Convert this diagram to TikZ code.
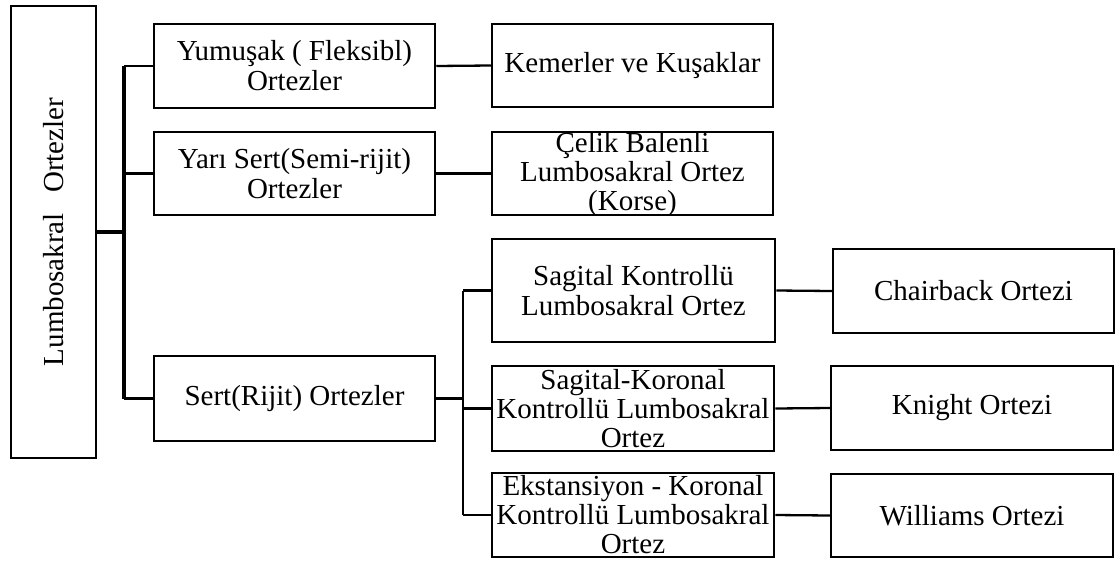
\documentclass[tikz,border=0pt]{standalone}
\usepackage{fontspec}
\setmainfont{Liberation Serif}
\begin{document}
\begin{tikzpicture}[x=1pt,y=-1pt,
  box/.style={draw=black, line width=2.5pt, fill=white, inner sep=0pt, minimum width=281pt, minimum height=84pt},
  txt/.style={inner sep=0pt, align=center, font=\fontsize{29}{30}\selectfont},
  txt3/.style={txt, font=\fontsize{29}{29}\selectfont},
  lnk/.style={draw=black, line width=2.3pt},
  lnkb/.style={draw=black, line width=3.2pt}]
\useasboundingbox (0,0) rectangle (1118,560);
% boxes
\node[box, minimum width=85pt, minimum height=452pt] (root) at (53.5,232) {};
\node[box, minimum height=84pt] (yum) at (294.5,66) {};
\node[box, minimum height=83pt] (yari) at (294.5,173.5) {};
\node[box, minimum height=85pt] (sert) at (294.5,398.5) {};
\node[box, minimum height=83pt] (kem) at (632.5,65.5) {};
\node[box, minimum height=83pt] (cel) at (632.5,173.5) {};
\node[box, minimum width=283pt, minimum height=103pt] (sk) at (633.5,290.5) {};
\node[box, minimum width=282pt, minimum height=85pt] (sko) at (633,408.5) {};
\node[box, minimum width=282pt, minimum height=84pt] (ek) at (633,515) {};
\node[box, minimum height=84pt] (chb) at (973.5,291) {};
\node[box, minimum width=282pt, minimum height=84pt] (kn) at (972,408) {};
\node[box, minimum width=282pt, minimum height=83pt] (wi) at (972,515.5) {};
% texts
\node[txt, rotate=90] (root-t) at (root) {Lumbosakral\hspace{0.7em}Ortezler};
\node[txt] (yum-t) at (yum) {Yumuşak ( Fleksibl)\\Ortezler};
\node[txt] (yari-t) at (yari) {Yarı Sert(Semi-rijit)\\Ortezler};
\node[txt] (sert-t) at (sert) {Sert(Rijit) Ortezler};
\node[txt] (kem-t) at (kem) {Kemerler ve Kuşaklar};
\node[txt3] (cel-t) at ([yshift=-1.5pt]cel.center) {Çelik Balenli\\Lumbosakral Ortez\\(Korse)};
\node[txt] (sk-t) at (sk) {Sagital Kontrollü\\Lumbosakral Ortez};
\node[txt3] (sko-t) at (sko) {Sagital-Koronal\\Kontrollü Lumbosakral\\Ortez};
\node[txt3] (ek-t) at (ek) {Ekstansiyon - Koronal\\Kontrollü Lumbosakral\\Ortez};
\node[txt] (chb-t) at (chb) {Chairback Ortezi};
\node[txt] (kn-t) at (kn) {Knight Ortezi};
\node[txt] (wi-t) at (wi) {Williams Ortezi};
% junctions
\coordinate (j1) at (124,232);
\coordinate (j2) at (463,398.5);
% connectors
\draw[lnkb] (root.east) -- (j1);
\draw[lnkb] (yum.west -| j1) -- (sert.west -| j1);
\draw[lnk] (yum.west) -- (yum.west -| j1);
\draw[lnk] (yari.west) -- (yari.west -| j1);
\draw[lnk] (sert.west) -- (sert.west -| j1);
\draw[lnk] (yum.east) -- (kem.west);
\draw[lnk] (yari.east) -- (cel.west);
\draw[lnkb] (sert.east) -- (j2);
\draw[lnk, line width=2.8pt] (sk.west -| j2) -- (ek.west -| j2);
\draw[lnk] (sk.west) -- (sk.west -| j2);
\draw[lnk] (sko.west) -- (sko.west -| j2);
\draw[lnk] (ek.west) -- (ek.west -| j2);
\draw[lnk] (sk.east) -- (chb.west);
\draw[lnk] (sko.east) -- (kn.west);
\draw[lnk] (ek.east) -- (wi.west);
\end{tikzpicture}
\end{document}
